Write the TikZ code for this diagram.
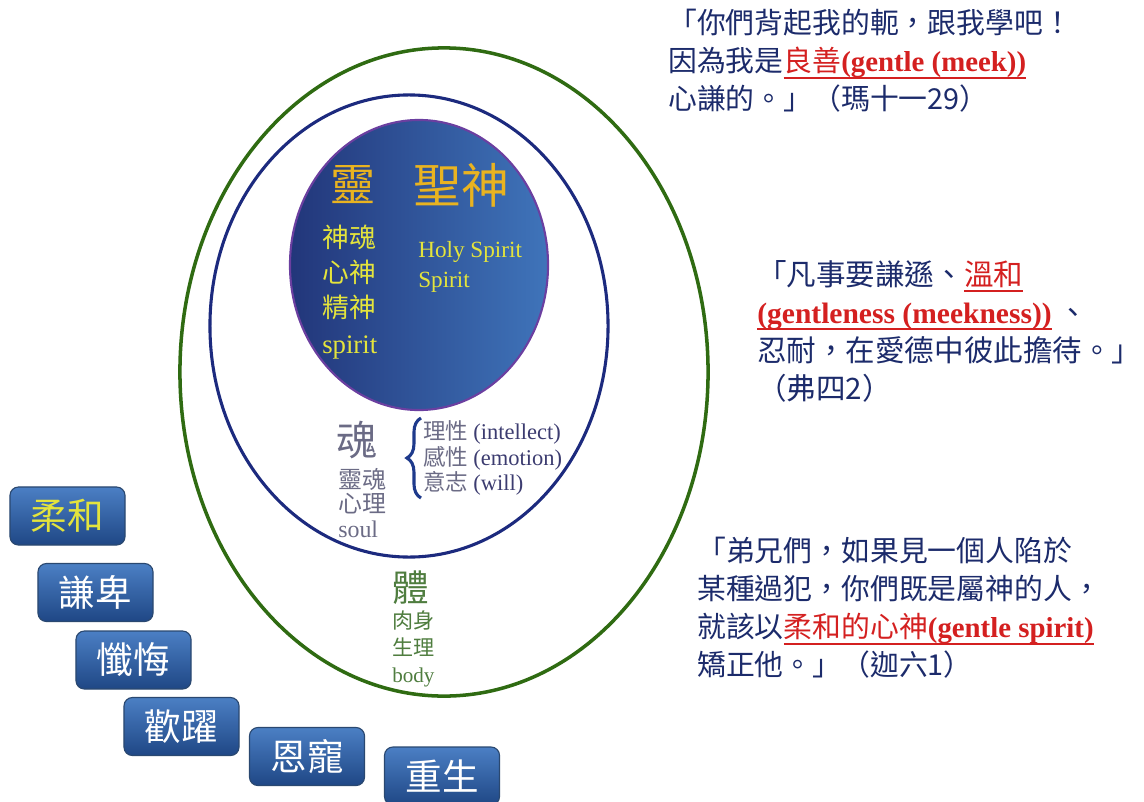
\documentclass[tikz,border=0pt]{standalone}
\usepackage{fontspec}
\setmainfont{Noto Sans CJK TC}
\newfontfamily\lat{Liberation Serif}
\usetikzlibrary{shapes.geometric,decorations.pathreplacing}

\definecolor{versenavy}{HTML}{1C2B6B}
\definecolor{versered}{HTML}{D42020}
\definecolor{spiritgold}{HTML}{E9B320}
\definecolor{spirityellow}{HTML}{E4E43C}
\definecolor{soulgray}{HTML}{6B6B85}
\definecolor{soulnavy}{HTML}{3C3C70}
\definecolor{bracenavy}{HTML}{1E3A8C}
\definecolor{bodytext}{HTML}{4F7D3F}
\definecolor{bodyline}{HTML}{2F6B12}
\definecolor{soulline}{HTML}{1C2A7E}
\definecolor{spiritedge}{HTML}{6B3FA0}
\definecolor{spiritdark}{HTML}{22367A}
\definecolor{spiritlight}{HTML}{3F74BA}
\definecolor{boxtop}{HTML}{4B7FC4}
\definecolor{boxbottom}{HTML}{1F4785}
\definecolor{boxedge}{HTML}{2A4870}

\newcommand\redul[1]{{\color{versered}\setbox0=\hbox{#1}\rlap{\rule[-5pt]{\wd0}{1.3pt}}\box0}}

\begin{document}
\begin{tikzpicture}[x=0.025cm, y=-0.025cm,
  virtue/.style={draw=boxedge, line width=0.8pt, rounded corners=6pt,
    top color=boxtop, bottom color=boxbottom, minimum width=2.875cm,
    minimum height=1.45cm, text=white, font=\fontsize{26}{26}\selectfont},
  verse/.style={anchor=west, inner sep=0pt, align=left, text=versenavy,
    font=\fontsize{20.5}{27}\selectfont}]
\useasboundingbox (0,0) rectangle (1144,802);

% three circles: body, soul, spirit
\node[ellipse, draw=bodyline, line width=2.5pt, minimum width=13.2cm, minimum height=16.2cm] (body) at (444,372) {};
\node[ellipse, draw=soulline, line width=2.2pt, minimum width=9.95cm, minimum height=11.55cm] (soul) at (409,326) {};
\node[ellipse, draw=spiritedge, line width=1.5pt, left color=spiritdark, right color=spiritlight,
  minimum width=6.45cm, minimum height=7.25cm] (spirit) at (419,265) {};

% spirit
\node[text=spiritgold, font=\fontsize{32}{32}\selectfont] (ling) at (353,185) {靈};
\node[text=spiritgold, font=\fontsize{34}{34}\selectfont] (shengshen) at (461,185) {聖神};
\node[anchor=west, inner sep=0pt, align=left, text=spirityellow, font=\fontsize{19}{25}\selectfont] (spiritzh) at (322,292)
{神魂\\心神\\精神\\{\lat spirit}};
\node[anchor=west, inner sep=0pt, align=left, text=spirityellow, font=\lat\fontsize{16.5}{21}\selectfont] (spiriten) at (418,267)
{Holy Spirit\\Spirit};

% soul
\node[text=soulgray, font=\fontsize{29}{29}\selectfont] (hun) at (357,440) {魂};
\node[anchor=west, inner sep=0pt, align=left, text=soulgray, font=\fontsize{17}{17.5}\selectfont] (soulzh) at (338,503)
{靈魂\\心理\\{\lat soul}};
\draw[decorate, decoration={brace, amplitude=10pt}, line width=2.2pt, bracenavy] (421,498) -- (421,418);
\node[anchor=west, inner sep=0pt, align=left, text=soulgray, font=\fontsize{16}{18.2}\selectfont] (faculty) at (423,458)
{理性 {\lat\color{soulnavy}(intellect)}\\感性 {\lat\color{soulnavy}(emotion)}\\意志 {\lat\color{soulnavy}(will)}};

% body
\node[text=bodytext, font=\fontsize{26}{26}\selectfont] (ti) at (411,588) {體};
\node[anchor=west, inner sep=0pt, align=left, text=bodytext, font=\fontsize{15}{19}\selectfont] (bodyzh) at (392,649)
{肉身\\生理\\{\lat body}};

% virtues
\node[virtue, text=spirityellow] (rouhe) at (67.5,516) {柔和};
\node[virtue] (qianbei) at (95.5,592.5) {謙卑};
\node[virtue] (chanhui) at (133.5,660) {懺悔};
\node[virtue] (huanyue) at (181.5,726.5) {歡躍};
\node[virtue] (enchong) at (307,756.5) {恩寵};
\node[virtue] (chongsheng) at (442,776) {重生};

% verses
\node[verse] (matthew) at (668,61)
{「你們背起我的軛，跟我學吧！\\因為我是\redul{良善{\lat\bfseries(gentle (meek))}}\\心謙的。」（瑪十一29）};
\node[verse, font=\fontsize{21}{27}\selectfont] (ephesians) at (757,331)
{「凡事要謙遜、\redul{溫和}\\\redul{\lat\bfseries(gentleness (meekness))} 、\\忍耐，在愛德中彼此擔待。」\\（弗四2）};
\node[verse] (galatians) at (697,608)
{「弟兄們，如果見一個人陷於\\某種過犯，你們既是屬神的人，\\就該以\redul{柔和的心神{\lat\bfseries(gentle spirit)}}\\矯正他。」（迦六1）};
\end{tikzpicture}
\end{document}
